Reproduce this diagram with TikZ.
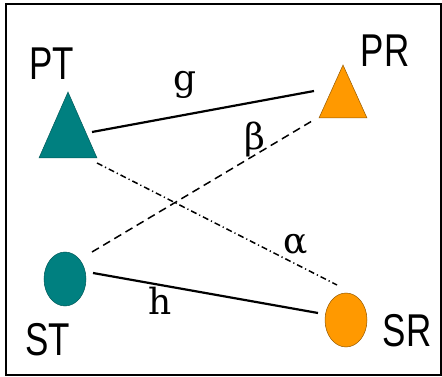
\documentclass[tikz,border=0pt]{standalone}
\usepackage{fontspec}
\setmainfont{Liberation Sans}
\newfontfamily\lblfont{DejaVu Serif}
\newcommand{\narrowtxt}[1]{\scalebox{0.76}[1]{#1}}
\begin{document}
\begin{tikzpicture}[x=1pt,y=-1pt,
  tealfill/.style={fill={rgb,255:red,0;green,128;blue,128}, draw={rgb,255:red,0;green,90;blue,90}, line width=0.5pt},
  orangefill/.style={fill={rgb,255:red,255;green,153;blue,0}, draw={rgb,255:red,150;green,90;blue,0}, line width=0.5pt},
  nodename/.style={font=\fontsize{46}{46}\selectfont, inner sep=0pt},
  chlbl/.style={font=\lblfont\fontsize{36}{36}\selectfont, inner sep=0pt},
  link/.style={line width=2.2pt},
  dashlink/.style={line width=1.5pt, dash pattern=on 8pt off 5pt},
  dotlink/.style={line width=1.5pt, dash pattern=on 6pt off 3pt on 1.2pt off 3pt}]
\useasboundingbox (0,0) rectangle (442,377);
\draw[line width=2pt] (5.5,4) rectangle (441,374.5);
% shapes
\draw[tealfill] (68,92) -- (97,158) -- (39,158) -- cycle;
\draw[orangefill] (343,65) -- (367,118) -- (319,118) -- cycle;
\draw[tealfill] (65,279) ellipse [x radius=21, y radius=27];
\draw[orangefill] (346,320) ellipse [x radius=21, y radius=27];
% anchor coordinates
\coordinate (ptr) at (92,132);
\coordinate (ptb) at (97,163);
\coordinate (prl) at (314,91);
\coordinate (prb) at (312,121);
\coordinate (stt) at (92,252);
\coordinate (str) at (93,273);
\coordinate (srl) at (318,313);
\coordinate (srt) at (337,285);
% connectors
\draw[link] (ptr) -- (prl);
\draw[dashlink] (stt) -- (prb);
\draw[dotlink] (ptb) -- (srt);
\draw[link] (str) -- (srl);
% names
\node[nodename] (PT) at (52,64) {\narrowtxt{PT}};
\node[nodename] (PR) at (385,51) {\narrowtxt{PR}};
\node[nodename] (ST) at (48,340) {\narrowtxt{ST}};
\node[nodename] (SR) at (407,331) {\narrowtxt{SR}};
% channel labels
\node[chlbl] (g) at (185,85) {g};
\node[chlbl] (b) at (255,139) {β};
\node[chlbl] (a) at (296,244) {α};
\node[chlbl] (h) at (160,301) {h};
\end{tikzpicture}
\end{document}
